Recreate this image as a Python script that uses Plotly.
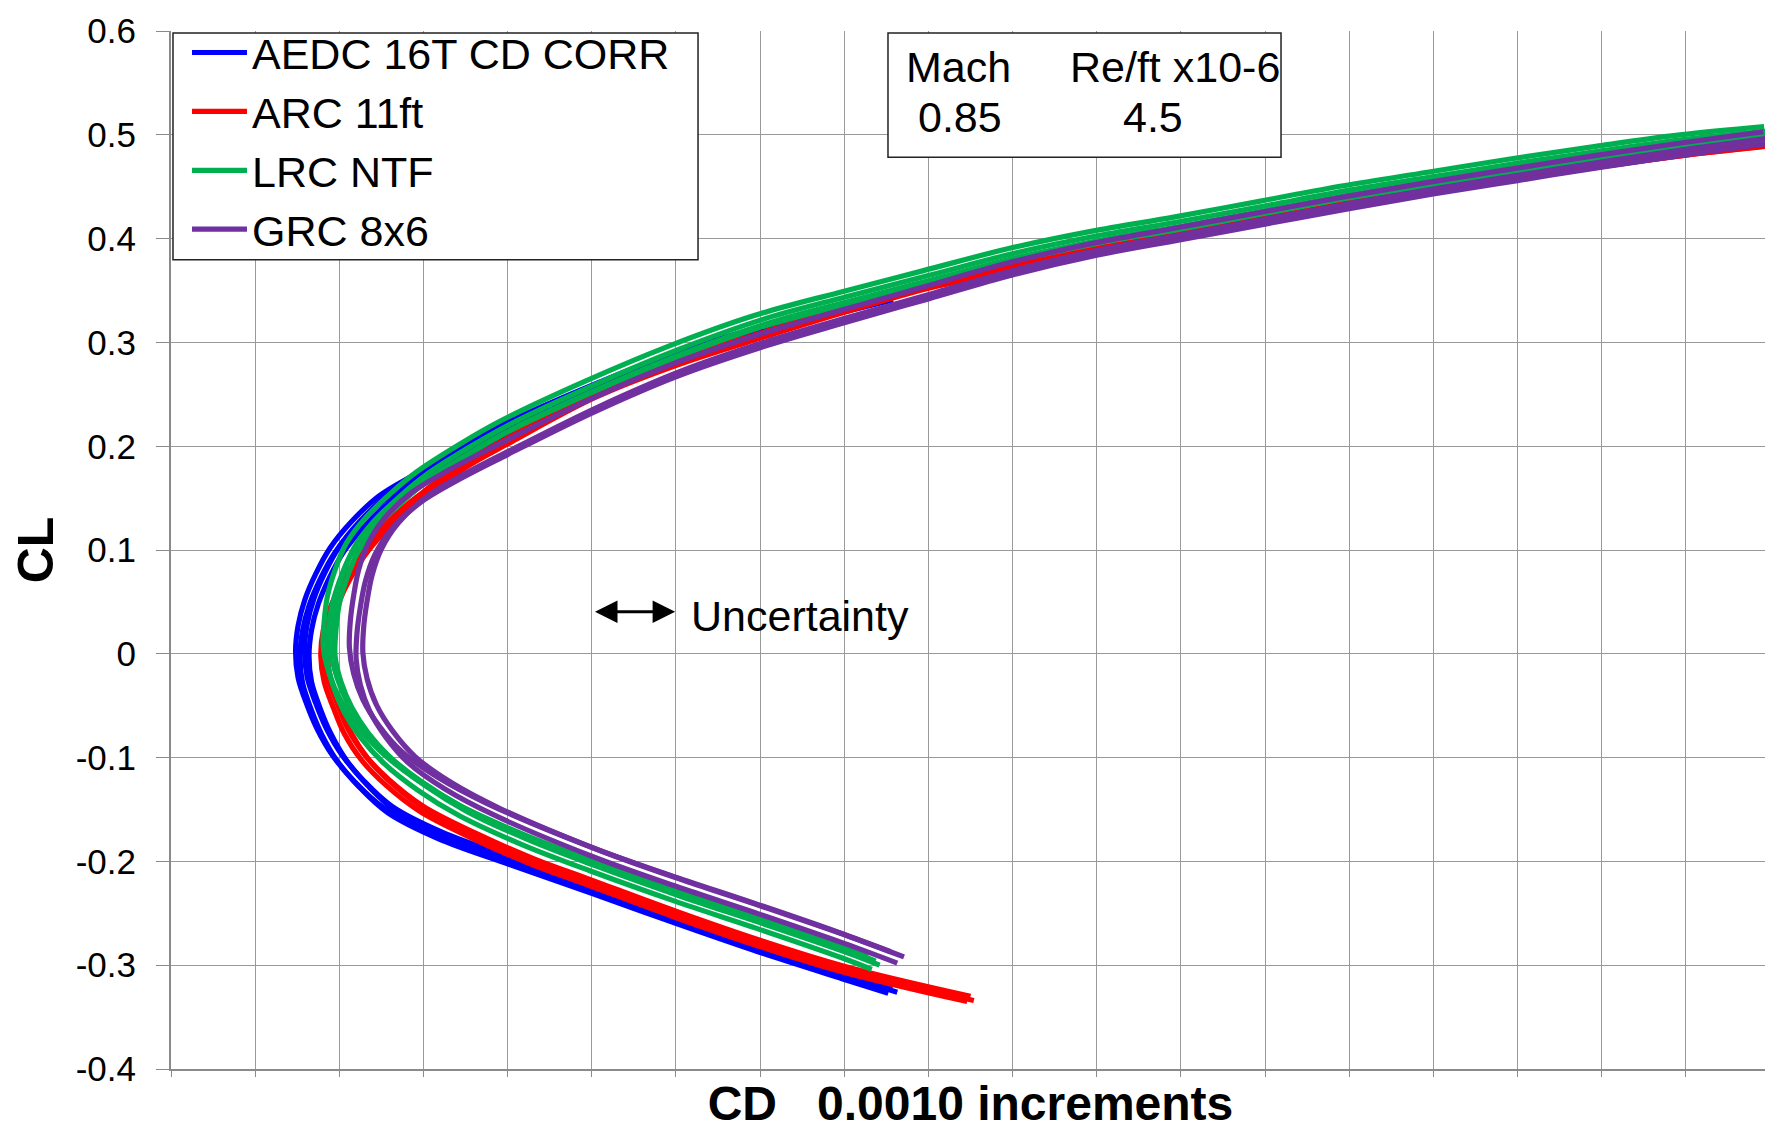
import plotly.graph_objects as go

# ---------------- data ----------------
series_names = ["AEDC 16T CD CORR", "ARC 11ft", "LRC NTF", "GRC 8x6"]
series_colors = ["#0000FF", "#FF0000", "#00B050", "#7030A0"]

aedc_cd = [0.02655, 0.02600, 0.02500, 0.02400, 0.02300, 0.02205, 0.02120, 0.02060, 0.02026,
           0.02000, 0.01982, 0.01969, 0.01959, 0.01956, 0.01959, 0.01967, 0.01980, 0.01997,
           0.02022, 0.02055, 0.02100, 0.02150, 0.02200, 0.02300, 0.02400, 0.02500, 0.02600,
           0.02650]
aedc_cl = [-0.324, -0.310, -0.284, -0.256, -0.227, -0.200, -0.175, -0.150, -0.125,
           -0.100, -0.075, -0.050, -0.025, 0.000, 0.025, 0.050, 0.075, 0.100,
           0.125, 0.150, 0.172, 0.196, 0.218, 0.254, 0.286, 0.311, 0.333,
           0.343]
aedc_run_dcd = [-0.00008, -0.000027, 0.000027, 0.00008]
aedc_run_dcl = [0.002, -0.003, 0.003, -0.002]

arc_cd = [0.02750, 0.02600, 0.02500, 0.02400, 0.02300, 0.02230, 0.02160, 0.02100, 0.02060,
          0.02030, 0.02010, 0.01997, 0.01986, 0.01982, 0.01985, 0.01995, 0.02010, 0.02030,
          0.02058, 0.02095, 0.02145, 0.02200, 0.02300, 0.02400, 0.02500, 0.02600, 0.02700,
          0.02800, 0.02900, 0.03000, 0.03100, 0.03200, 0.03300, 0.03400, 0.03500, 0.03600,
          0.03700]
arc_cl = [-0.333, -0.304, -0.279, -0.251, -0.221, -0.200, -0.175, -0.150, -0.125,
          -0.100, -0.075, -0.050, -0.025, 0.000, 0.025, 0.050, 0.075, 0.100,
          0.125, 0.150, 0.180, 0.205, 0.248, 0.280, 0.306, 0.331, 0.354,
          0.371, 0.388, 0.402, 0.417, 0.432, 0.446, 0.459, 0.471, 0.482,
          0.491]
arc_run_dcd = [-0.00004, 0.0, 0.00004]
arc_run_dcl = [-0.002, 0.003, -0.001]

lrc_cd = [0.02635, 0.02600, 0.02500, 0.02400, 0.02300, 0.02220, 0.02145, 0.02095, 0.02056,
          0.02028, 0.02008, 0.01995, 0.01988, 0.01989, 0.01993, 0.02002, 0.02015, 0.02038,
          0.02070, 0.02100, 0.02150, 0.02200, 0.02300, 0.02400, 0.02500, 0.02600, 0.02700,
          0.02800, 0.02900, 0.03000, 0.03100, 0.03200, 0.03300, 0.03400, 0.03500, 0.03600,
          0.03700]
lrc_cl = [-0.298, -0.287, -0.259, -0.232, -0.203, -0.178, -0.150, -0.125, -0.100,
          -0.075, -0.050, -0.025, 0.000, 0.025, 0.050, 0.075, 0.100, 0.125,
          0.150, 0.170, 0.196, 0.219, 0.257, 0.291, 0.320, 0.342, 0.363,
          0.384, 0.401, 0.415, 0.430, 0.445, 0.458, 0.471, 0.483, 0.494,
          0.502]
lrc_run_dcd = [-0.00007, -0.000023, 0.000023, 0.00007]
lrc_run_dcl = [0.006, -0.006, 0.002, -0.002]

grc_cd = [0.02663, 0.02600, 0.02500, 0.02400, 0.02300, 0.02183, 0.02125, 0.02082, 0.02055,
          0.02036, 0.02025, 0.02020, 0.02021, 0.02025, 0.02031, 0.02042, 0.02062, 0.02095,
          0.02140, 0.02200, 0.02300, 0.02400, 0.02500, 0.02600, 0.02700, 0.02800, 0.02900,
          0.03000, 0.03100, 0.03200, 0.03300, 0.03400, 0.03500, 0.03600, 0.03700]
grc_cl = [-0.293, -0.274, -0.246, -0.219, -0.190, -0.150, -0.125, -0.100, -0.075,
          -0.050, -0.025, 0.000, 0.025, 0.050, 0.075, 0.100, 0.125, 0.150,
          0.172, 0.197, 0.237, 0.272, 0.300, 0.324, 0.347, 0.370, 0.389,
          0.404, 0.419, 0.434, 0.448, 0.461, 0.474, 0.486, 0.497]
grc_run_dcd = [-0.00008, 0.0, 0.00008]
grc_run_dcl = [0.006, -0.005, 0.001]

y_tickvals = [-0.4, -0.3, -0.2, -0.1, 0.0, 0.1, 0.2, 0.3, 0.4, 0.5, 0.6]
y_ticktext = ["-0.4", "-0.3", "-0.2", "-0.1", "0", "0.1", "0.2", "0.3", "0.4", "0.5", "0.6"]

mach_label, mach_value = "Mach", "0.85"
re_label, re_value = "Re/ft x10-6", "4.5"
uncertainty_label = "Uncertainty"
uncertainty_cd = [0.02302, 0.02399]
uncertainty_cl = 0.0406

# ---------------- figure ----------------
FONT = "Liberation Sans, Arial, sans-serif"
fig = go.Figure()

all_series = [
    (aedc_cd, aedc_cl, aedc_run_dcd, aedc_run_dcl),
    (arc_cd, arc_cl, arc_run_dcd, arc_run_dcl),
    (lrc_cd, lrc_cl, lrc_run_dcd, lrc_run_dcl),
    (grc_cd, grc_cl, grc_run_dcd, grc_run_dcl),
]

for i, (cd, cl, dcds, dcls) in enumerate(all_series):
    for j, (dx, dy) in enumerate(zip(dcds, dcls)):
        fig.add_trace(go.Scatter(
            x=[v + dx for v in cd], y=[v + dy for v in cl],
            mode="lines",
            line=dict(color=series_colors[i], width=5.2, shape="spline", smoothing=1.0),
            name=series_names[i],
            legendgroup=series_names[i],
            showlegend=(j == 0),
            hoverinfo="skip",
        ))

# the page adds an 8 px body margin, so the figure is 8 px smaller than the window
fig.update_layout(
    width=1765, height=1122,
    margin=dict(l=163, r=3, t=20, b=58),
    paper_bgcolor="white", plot_bgcolor="white",
    font=dict(family=FONT, color="black"),
    showlegend=True,
    legend=dict(
        x=0.010, y=1.0125, xanchor="left", yanchor="top",
        bgcolor="rgba(0,0,0,0)", borderwidth=0,
        font=dict(size=43, family=FONT, color="black"),
        itemwidth=55, tracegroupgap=0,
    ),
)

fig.update_xaxes(
    range=[0.018, 0.0370001], dtick=0.001, tick0=0.018,
    showticklabels=False,
    showgrid=True, gridcolor="#9a9a9a", gridwidth=1.3,
    zeroline=False,
    showline=True, linecolor="#8a8a8a", linewidth=2,
    ticks="outside", ticklen=6, tickcolor="#8a8a8a",
    title=dict(text="<b>CD\u00a0\u00a0\u00a00.0010 increments</b>",
               font=dict(size=48, family=FONT, color="black"), standoff=18),
)
fig.update_yaxes(
    range=[-0.4, 0.6001], tickvals=y_tickvals, ticktext=y_ticktext,
    showgrid=True, gridcolor="#9a9a9a", gridwidth=1.3,
    zeroline=False,
    showline=True, linecolor="#8a8a8a", linewidth=2,
    ticks="outside", ticklen=13, tickcolor="#8a8a8a",
    ticklabelstandoff=13,
    tickfont=dict(size=35, family=FONT, color="black"),
    title=dict(text="<b>CL</b>", font=dict(size=50, family=FONT, color="black"), standoff=10),
)

# legend frame
fig.add_shape(type="rect", xref="paper", yref="paper",
              x0=0.00125, x1=0.3296, y0=0.7797, y1=0.998,
              line=dict(color="#222222", width=1.5), fillcolor="white", layer="above")

# Mach / Re box
fig.add_shape(type="rect", xref="paper", yref="paper",
              x0=0.4484, x1=0.6942, y0=0.8784, y1=0.998,
              line=dict(color="#222222", width=1.5), fillcolor="white", layer="above")
for txt, px, py in [(mach_label, 0.4928, 0.9655), (re_label, 0.6279, 0.9655),
                    (mach_value, 0.4934, 0.9167), (re_value, 0.6141, 0.9167)]:
    fig.add_annotation(text=txt, x=px, y=py, xref="paper", yref="paper",
                       showarrow=False, xanchor="center", yanchor="middle",
                       font=dict(size=43, family=FONT, color="black"))

# Uncertainty arrow
fig.add_annotation(x=uncertainty_cd[1], y=uncertainty_cl, ax=uncertainty_cd[0], ay=uncertainty_cl,
                   xref="x", yref="y", axref="x", ayref="y", text="",
                   showarrow=True, arrowhead=2, startarrowhead=2, arrowside="end+start",
                   arrowsize=1.5, startarrowsize=1.5, arrowwidth=3, arrowcolor="black",
                   standoff=0, startstandoff=0)
fig.add_annotation(x=uncertainty_cd[1] + 0.00017, y=uncertainty_cl - 0.004, xref="x", yref="y",
                   text=uncertainty_label, showarrow=False, xanchor="left", yanchor="middle",
                   font=dict(size=43, family=FONT, color="black"))

fig.write_html("out.html")
